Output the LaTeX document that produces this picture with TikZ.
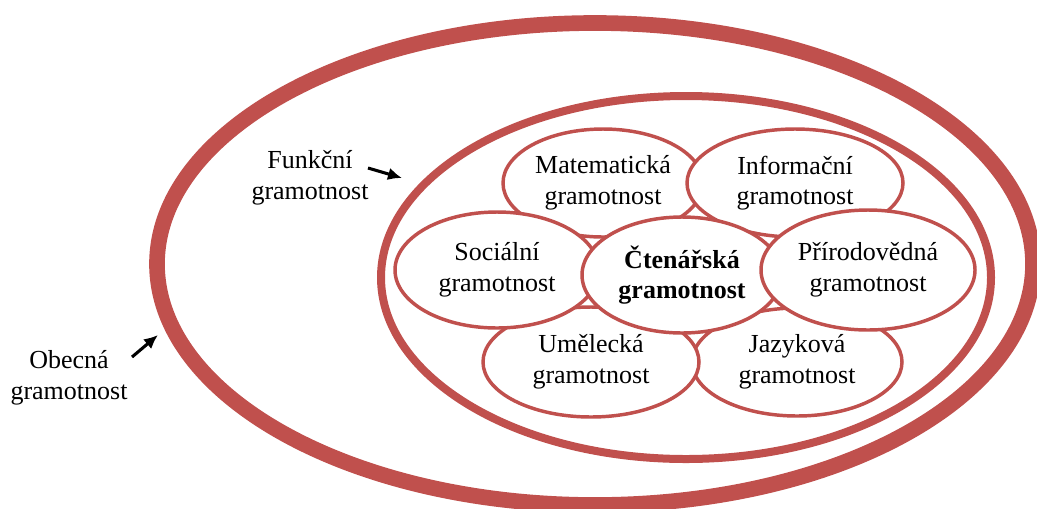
\documentclass[tikz,border=0pt]{standalone}
\usepackage{fontspec}
\setmainfont{Liberation Serif}
\usetikzlibrary{shapes.geometric,arrows.meta}
\definecolor{gred}{HTML}{C0504D}
\tikzset{
  ring/.style={draw=gred,ellipse,inner sep=0pt},
  gram/.style={ring,fill=white,line width=2.6pt,align=center,font=\fontsize{19.5}{23}\selectfont},
  popis/.style={align=center,font=\fontsize{19.5}{23}\selectfont},
  sipka/.style={-{Latex[length=10.5pt,width=9.5pt]},line width=2.3pt}
}
\begin{document}
\begin{tikzpicture}[x=0.75pt,y=-0.75pt]
	\useasboundingbox (0,0) rectangle (1037,508);
	% Obecna a funkcni gramotnost
		\node [ring,line width=11.75pt,minimum width=657pt,minimum height=361.5pt] (obecna) at (595,264) {};
		\node [ring,line width=6pt,minimum width=457.5pt,minimum height=272.25pt] (funkcni) at (686,277.5) {};
		
	% Dilci gramotnosti
		\node [gram,minimum width=150pt,minimum height=81pt] (mat) at (603,183) {Matematická\\gramotnost};
		\node [gram,minimum width=162pt,minimum height=81pt] (inf) at (795,183) {Informační\\gramotnost};
		\node [gram,minimum width=157.5pt,minimum height=81pt] (jaz) at (797,362) {Jazyková\\gramotnost};
		\node [gram,minimum width=162pt,minimum height=82.5pt] (umel) at (591,362) {Umělecká\\gramotnost};
		\node [gram,minimum width=153pt,minimum height=87pt] (soc) at (497,270) {Sociální\\gramotnost};
		\node [gram,minimum width=150pt,minimum height=87pt,font=\fontsize{19.5}{23}\selectfont\bfseries] (cten) at (682,275) {Čtenářská\\gramotnost};
		\node [gram,minimum width=160.5pt,minimum height=90pt] (prir) at (868,270) {Přírodovědná\\gramotnost};
		
	% Popisky
		\node [popis] (obecnapopis) at (69,378) {Obecná\\gramotnost};
		\node [popis] (funkcnipopis) at (310,178) {Funkční\\gramotnost};
		\coordinate (obecnaod) at (132,357);
		\coordinate (obecnado) at (158,335);
		\coordinate (funkcniod) at (368,168);
		\coordinate (funkcnido) at (402,178);
		\draw [sipka] (obecnaod) -- (obecnado);
		\draw [sipka] (funkcniod) -- (funkcnido);
		
\end{tikzpicture}
\end{document}
